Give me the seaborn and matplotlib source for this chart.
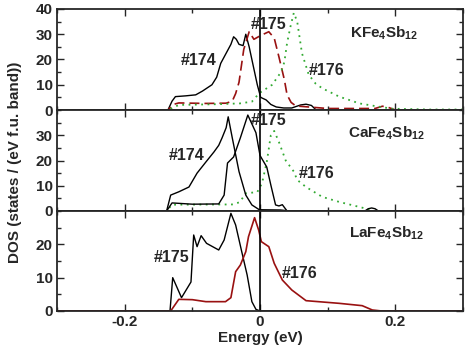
import numpy as np
import pandas as pd
import matplotlib
matplotlib.use("Agg")
import matplotlib.pyplot as plt
import seaborn as sns
from matplotlib.ticker import MultipleLocator, FixedLocator

sns.set_style("ticks")
plt.rcParams['font.family'] = ['Liberation Sans', 'DejaVu Sans']
plt.rcParams['font.weight'] = 'bold'
plt.rcParams['mathtext.fontset'] = 'custom'
plt.rcParams['mathtext.bf'] = 'Liberation Sans:bold'
plt.rcParams['mathtext.rm'] = 'Liberation Sans:bold'

# ---------------- data ----------------
# KFe4Sb12
k174_e = [-0.30, -0.136, -0.130, -0.125, -0.110, -0.095, -0.085, -0.071, -0.064, -0.058, -0.049, -0.043, -0.039, -0.035, -0.031, -0.025, -0.021, -0.016, -0.012, -0.004, 0.001, 0.009, 0.016, 0.024, 0.035, 0.047, 0.060, 0.068, 0.076, 0.083, 0.30]
k174_d = [0, 0, 3.5, 5.3, 5.6, 6.0, 7.5, 10, 13, 18.5, 23, 26, 29, 28, 26, 25.5, 30, 25, 20, 10, 5, 4, 2.2, 1.2, 0.8, 0.8, 2.0, 2.3, 1.8, 0, 0]
k175_e = [-0.30, -0.136, -0.128, -0.12, -0.08, -0.050, -0.041, -0.036, -0.031, -0.024, -0.016, -0.009, 0.001, 0.013, 0.021, 0.028, 0.036, 0.040, 0.046, 0.053, 0.10, 0.17, 0.181, 0.19, 0.20, 0.30]
k175_d = [0, 0, 2.2, 2.8, 2.6, 2.7, 3.5, 6.5, 11, 24, 31, 28, 29.5, 31, 28.5, 21, 12, 6, 3, 1.6, 0.6, 0.6, 1.5, 1.0, 0, 0]
k176_e = [-0.30, -0.136, -0.12, -0.064, -0.030, -0.012, -0.001, 0.018, 0.031, 0.036, 0.040, 0.045, 0.050, 0.055, 0.062, 0.072, 0.082, 0.092, 0.117, 0.147, 0.176, 0.196, 0.25, 0.30]
k176_d = [0, 0, 2.0, 2.3, 2.6, 3.3, 6.7, 10, 15, 19, 26.5, 33, 38.5, 35, 22.5, 14, 10.5, 8.6, 5.3, 2.6, 1.3, 0.5, 0.2, 0.2]

# CaFe4Sb12
c174_e = [-0.30, -0.138, -0.132, -0.120, -0.105, -0.093, -0.080, -0.068, -0.061, -0.056, -0.050, -0.047, -0.041, -0.031, -0.021, -0.012, -0.001, 0.03, 0.045, 0.155, 0.160, 0.165, 0.170, 0.175, 0.30]
c174_d = [0, 0, 6.3, 7.6, 9.5, 15, 19.4, 23.4, 26, 29, 33, 37.3, 29, 15.6, 6.3, 2.4, 0.5, 0.4, 0, 0, 0.9, 1.2, 0.9, 0, 0]
c175_e = [-0.30, -0.138, -0.13, -0.10, -0.061, -0.053, -0.048, -0.039, -0.029, -0.018, -0.006, 0.0, 0.010, 0.016, 0.023, 0.028, 0.033, 0.040, 0.30]
c175_d = [0, 0, 3.2, 2.7, 2.8, 6.3, 19, 21.4, 29, 38, 31, 22, 17.4, 10.3, 2.4, 2.0, 2.5, 0, 0]
c176_e = [-0.30, -0.138, -0.13, -0.04, -0.030, -0.021, -0.004, 0.003, 0.010, 0.016, 0.021, 0.028, 0.038, 0.050, 0.055, 0.068, 0.092, 0.117, 0.147, 0.17, 0.30]
c176_d = [0, 0, 2.5, 2.6, 3.5, 7, 7.5, 11, 19.4, 30, 31.7, 27.3, 20, 15.6, 12.3, 9.5, 5.6, 3.6, 1.6, 0, 0]

# LaFe4Sb12
l175_e = [-0.30, -0.133, -0.129, -0.116, -0.102, -0.098, -0.093, -0.087, -0.079, -0.061, -0.053, -0.043, -0.036, -0.027, -0.019, -0.012, -0.006, 0.0, 0.30]
l175_d = [0, 0, 10, 4, 8.7, 22.8, 19.3, 22.6, 20.3, 18.3, 21.3, 29.3, 25.8, 17.8, 10.8, 2.8, 0.5, 0, 0]
l176_e = [-0.30, -0.132, -0.12, -0.10, -0.08, -0.051, -0.043, -0.036, -0.029, -0.021, -0.017, -0.008, -0.002, 0.002, 0.013, 0.021, 0.033, 0.047, 0.068, 0.117, 0.151, 0.166, 0.18, 0.30]
l176_d = [0, 0, 3.5, 3.4, 2.8, 2.8, 4, 11.8, 13.8, 17.8, 22.3, 28, 24.3, 20.8, 19.3, 14.3, 9.3, 6.3, 3.1, 2.3, 1.6, 0.3, 0, 0]

compounds = ["KFe$_\\mathbf{4}$Sb$_\\mathbf{12}$", "CaFe$_\\mathbf{4}$Sb$_\\mathbf{12}$", "LaFe$_\\mathbf{4}$Sb$_\\mathbf{12}$"]
ylims = [40, 40, 30]
yticks = [[0, 10, 20, 30, 40], [0, 10, 20, 30], [0, 10, 20]]

# ---------------- figure ----------------
W, H = 466, 354
fig = plt.figure(figsize=(W / 100, H / 100), dpi=100)
left, right = 57, 463
panels_px = [(9, 110), (110, 211), (211, 311)]
axes = []
for top, bot in panels_px:
    ax = fig.add_axes([left / W, 1 - bot / H, (right - left) / W, (bot - top) / H])
    axes.append(ax)

red = '#991111'
green = '#33aa33'

def draw(ax, e, d, **kw):
    df = pd.DataFrame({'E': e, 'DOS': d})
    sns.lineplot(data=df, x='E', y='DOS', ax=ax, estimator=None, sort=False, **kw)

# KFe
draw(axes[0], k174_e, k174_d, color='black', lw=1.0)
draw(axes[0], k175_e, k175_d, color=red, lw=1.2, dashes=(6, 3))
draw(axes[0], k176_e, k176_d, color=green, lw=1.3, dashes=(1, 2.5))
# CaFe
draw(axes[1], c176_e, c176_d, color=green, lw=1.3, dashes=(1, 2.5))
draw(axes[1], c174_e, c174_d, color='black', lw=1.0)
draw(axes[1], c175_e, c175_d, color='black', lw=1.0)
# LaFe
draw(axes[2], l175_e, l175_d, color='black', lw=1.0)
draw(axes[2], l176_e, l176_d, color=red, lw=1.2)

labels = [
    [("#174", -0.09, 19.8), ("#175", 0.013, 33.7), ("#176", 0.098, 15.8)],
    [("#174", -0.108, 21.8), ("#175", 0.013, 36.0), ("#176", 0.083, 15.0)],
    [("#175", -0.130, 15.9), ("#176", 0.058, 11.4)],
]
comp_pos = [(0.183, 30.5), (0.187, 31.0), (0.187, 23.4)]

FS = 11
for i, ax in enumerate(axes):
    ax.set_xlim(-0.3, 0.3)
    ax.set_ylim(0, ylims[i])
    ax.axvline(0, color='black', lw=1.2)
    for s in ax.spines.values():
        s.set_linewidth(1.3)
    ax.xaxis.set_major_locator(FixedLocator([-0.2, 0.0, 0.2]))
    ax.xaxis.set_minor_locator(MultipleLocator(0.1))
    ax.yaxis.set_major_locator(FixedLocator(yticks[i]))
    ax.yaxis.set_minor_locator(MultipleLocator(5))
    ax.tick_params(which='both', direction='in', top=True, right=True, width=1.0)
    ax.tick_params(which='major', length=5, labelsize=FS, pad=3)
    ax.tick_params(which='minor', length=3)
    ax.set_xlabel('')
    ax.set_ylabel('')
    if i < 2:
        ax.tick_params(axis='x', labelbottom=False)
    for txt, x, y in labels[i]:
        ax.text(x, y, txt, ha='center', va='center', fontsize=11.5, fontweight='bold')
    cx, cy = comp_pos[i]
    ax.text(cx, cy, compounds[i], ha='center', va='center', fontsize=11, fontweight='bold')

axes[2].set_xticklabels(['-0.2', '0', '0.2'])
axes[2].set_xlabel('Energy (eV)', fontsize=FS, fontweight='bold', labelpad=1)
fig.text(15 / W, 1 - 162 / H, 'DOS (states / (eV f.u. band))', rotation=90,
         ha='center', va='center', fontsize=FS, fontweight='bold')

fig.savefig('out.png', dpi=100)
